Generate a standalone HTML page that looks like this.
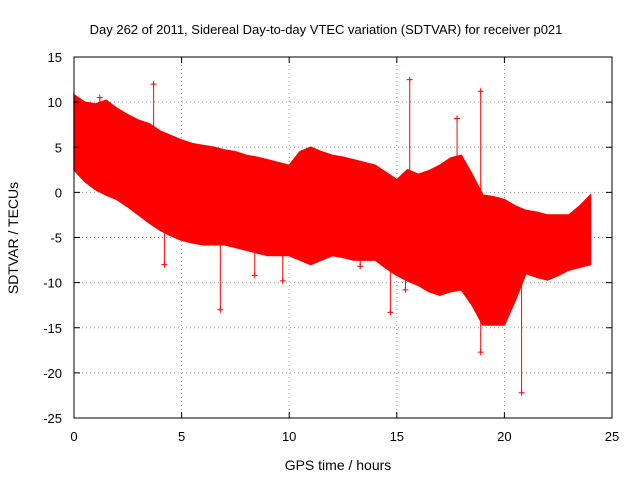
<!DOCTYPE html>
<html><head><meta charset="utf-8"><style>
body{margin:0;background:#fff;}
svg{display:block;font-family:"Liberation Sans",sans-serif;}
</style></head><body>
<svg id="c" width="640" height="480">
<text x="326" y="34" font-size="13" text-anchor="middle">Day 262 of 2011, Sidereal Day-to-day VTEC variation (SDTVAR) for receiver p021</text>
<text x="338" y="470" font-size="14" text-anchor="middle">GPS time / hours</text>
<text x="18" y="238" font-size="14" text-anchor="middle" transform="rotate(-90 18 238)">SDTVAR / TECUs</text>
<g id="grid"></g><g id="data"></g><g id="axes"></g>
</svg>
<script>
const hours=[0,0.5,1,1.5,2,2.5,3,3.5,4,4.5,5,5.5,6,6.5,7,7.5,8,8.5,9,9.5,10,10.5,11,11.5,12,12.5,13,13.5,14,14.5,15,15.5,16,16.5,17,17.5,18,18.5,19,19.5,20,20.5,21,21.5,22,22.5,23,23.5,24];
const upper=[10.8,10,9.8,10.2,9.3,8.6,8,7.6,6.8,6.3,5.8,5.4,5.2,5,4.7,4.5,4.1,3.9,3.6,3.3,3,4.5,5,4.5,4.1,3.9,3.6,3.3,3,2.2,1.4,2.5,2,2.4,3,3.8,4.1,2,-0.3,-0.5,-0.8,-1.5,-2,-2.2,-2.5,-2.5,-2.5,-1.5,-0.3];
const lower=[2.5,1.2,0.3,-0.3,-0.8,-1.6,-2.5,-3.4,-4.2,-4.8,-5.3,-5.6,-5.8,-5.8,-5.8,-6.1,-6.4,-6.7,-7,-7,-7,-7.5,-8,-7.5,-7,-7.2,-7.5,-7.5,-7.5,-8.4,-9.2,-9.8,-10.3,-11,-11.4,-11,-10.8,-12.5,-14.7,-14.7,-14.7,-12,-9,-9.4,-9.7,-9.2,-8.6,-8.3,-8];
const outX=[1.2,3.7,15.6,18.9,17.8,20.8,18.9,6.8,14.7,9.7,13.3,15.4,4.2,8.4];
const outY=[10.5,12,12.5,11.2,8.2,-22.2,-17.7,-13,-13.3,-9.8,-8.2,-10.8,-8,-9.2];
const xTicks=[0,5,10,15,20,25];
const yTicks=[-25,-20,-15,-10,-5,0,5,10,15];
const X0=74,X1=612,Y0=418,Y1=57;
const xs=v=>X0+(v-0)/25*(X1-X0);
const ys=v=>Y0-(v+25)/40*(Y0-Y1);
const NS="http://www.w3.org/2000/svg";
function mk(t,a,p){const e=document.createElementNS(NS,t);for(const k in a)e.setAttribute(k,a[k]);p.appendChild(e);return e;}
function interp(arr,h){for(let i=0;i<hours.length-1;i++){if(h>=hours[i]&&h<=hours[i+1]){const f=(h-hours[i])/(hours[i+1]-hours[i]);return arr[i]+f*(arr[i+1]-arr[i]);}}return arr[arr.length-1];}
const grid=document.getElementById('grid'),axes=document.getElementById('axes'),data=document.getElementById('data');
xTicks.forEach(t=>{const x=xs(t);
 if(t>0&&t<25){const g=mk('line',{x1:x,x2:x,y1:Y1,y2:Y0,stroke:'#a0a0a0','stroke-dasharray':'1,3'},grid);
 }
 const l=mk('line',{x1:x,x2:x,y1:Y0,y2:Y0-6,stroke:'#000'},axes);
 const l2=mk('line',{x1:x,x2:x,y1:Y1,y2:Y1+6,stroke:'#000'},axes);
 const tx=mk('text',{x:x,y:Y0+23,'font-size':13,'text-anchor':'middle'},axes);tx.textContent=t;
 });
yTicks.forEach(t=>{const y=ys(t);
 if(t>-25&&t<15){const g=mk('line',{x1:X0,x2:X1,y1:y,y2:y,stroke:'#a0a0a0','stroke-dasharray':'1,3'},grid);
 }
 const l=mk('line',{x1:X0,x2:X0+6,y1:y,y2:y,stroke:'#000'},axes);
 const l2=mk('line',{x1:X1,x2:X1-6,y1:y,y2:y,stroke:'#000'},axes);
 const tx=mk('text',{x:X0-12,y:y+5,'font-size':13,'text-anchor':'end'},axes);tx.textContent=t;
 });
const box=mk('rect',{x:X0,y:Y1,width:X1-X0,height:Y0-Y1,fill:'none',stroke:'#000'},axes);

let pts=hours.map((h,i)=>xs(h)+','+ys(upper[i]));
for(let i=hours.length-1;i>=0;i--)pts.push(xs(hours[i])+','+ys(lower[i]));
const band=mk('polygon',{points:pts.join(' '),fill:'#ff0000',stroke:'#ff0000','stroke-width':1.5},data);

outX.forEach((h,i)=>{const x=xs(h),y=ys(outY[i]);
 const edge=outY[i]>0?interp(upper,h):interp(lower,h);
 const s=mk('line',{x1:x,x2:x,y1:y,y2:ys(edge),stroke:'#ff0000','stroke-width':1},data);
 
 const p=mk('path',{d:`M${x-3},${y}H${x+3}M${x},${y-3}V${y+3}`,stroke:'#ff0000','stroke-width':1},data);
 });
</script>
</body></html>
